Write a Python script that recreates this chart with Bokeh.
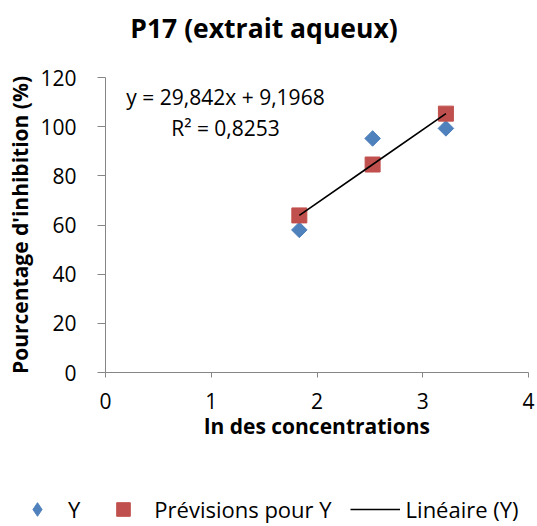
from bokeh.plotting import figure
from bokeh.models import Range1d, FixedTicker, Label, Legend, LegendItem
from bokeh.embed import file_html
from bokeh.resources import INLINE

# ---- data ----
title_text = "P17 (extrait aqueux)"
x_label = "ln des concentrations"
y_label = "Pourcentage d'inhibition (%)"
ln_conc = [1.833, 2.526, 3.219]
y_obs = [58.0, 95.2, 99.3]
y_pred = [63.9, 84.6, 105.3]
x_ticks = [0, 1, 2, 3, 4]
y_ticks = [0, 20, 40, 60, 80, 100, 120]
eq_text = "y = 29,842x + 9,1968"
r2_text = "R² = 0,8253"
series_names = ["Y", "Prévisions pour Y", "Linéaire (Y)"]

FONT = "Open Sans"
BLUE = "#4F81BD"
RED = "#C0504D"
AXIS = "#868686"


def strip(height):
    f = figure(width=537, height=height, output_backend="svg", toolbar_location=None,
               x_range=Range1d(0, 1), y_range=Range1d(0, 1),
               x_axis_location=None, y_axis_location=None,
               min_border=0, min_border_left=0, min_border_right=0,
               min_border_top=0, min_border_bottom=0)
    f.outline_line_color = None
    f.grid.visible = False
    f.border_fill_color = "white"
    f.background_fill_color = "white"
    return f


# ---- title strip ----
tt = strip(50)
tt.add_layout(Label(x=263.5, y=23, x_units="screen", y_units="screen",
                    text=title_text, text_align="center", text_baseline="middle",
                    text_font=FONT, text_font_style="bold", text_font_size="26.5px",
                    text_color="black"))

# ---- main chart ----
p = figure(width=537, height=440, output_backend="svg", toolbar_location=None,
           x_range=Range1d(0, 4), y_range=Range1d(0, 120),
           min_border_left=105, min_border_right=9, min_border_top=27,
           min_border_bottom=118)
p.outline_line_color = None
p.xgrid.visible = False
p.ygrid.visible = False
p.background_fill_color = "white"
p.border_fill_color = "white"

for ax in (p.xaxis[0], p.yaxis[0]):
    ax.axis_line_color = AXIS
    ax.axis_line_width = 1
    ax.major_tick_line_color = AXIS
    ax.minor_tick_line_color = None
    ax.major_tick_in = 0
    ax.major_label_text_font = FONT
    ax.major_label_text_font_size = "21px"
    ax.major_label_text_color = "black"
    ax.axis_label_text_font = FONT
    ax.axis_label_text_font_style = "bold"
    ax.axis_label_text_font_size = "21px"
    ax.axis_label_text_color = "black"

p.xaxis.ticker = FixedTicker(ticks=x_ticks)
p.yaxis.ticker = FixedTicker(ticks=y_ticks)
p.xaxis.axis_label = x_label
p.yaxis.axis_label = y_label
p.xaxis.major_tick_out = 5
p.yaxis.major_tick_out = 8
p.xaxis.major_label_standoff = 15
p.yaxis.major_label_standoff = 21
p.xaxis.axis_label_standoff = 0
p.yaxis.axis_label_standoff = 3

r_obs = p.scatter(ln_conc, y_obs, marker="square", size=11, angle=0.785398,
                  fill_color=BLUE, line_color=BLUE)
r_pred = p.scatter(ln_conc, y_pred, marker="square", size=15,
                   fill_color=RED, line_color=RED)
r_lin = p.line(ln_conc, y_pred, line_color="black", line_width=1.6)

p.add_layout(Label(x=120, y=276, x_units="screen", y_units="screen",
                   text=eq_text, text_align="center", text_baseline="middle",
                   text_font=FONT, text_font_size="21px", text_color="black"))
p.add_layout(Label(x=120, y=245, x_units="screen", y_units="screen",
                   text=r2_text, text_align="center", text_baseline="middle",
                   text_font=FONT, text_font_size="21px", text_color="black"))

# ---- legend strip ----
lg = strip(36)
# same series, outside this strip's ranges: only their legend glyphs show
lg_obs = lg.scatter(ln_conc, y_obs, marker="diamond", size=15,
                    fill_color=BLUE, line_color=BLUE)
lg_pred = lg.scatter(ln_conc, y_pred, marker="square", size=15,
                     fill_color=RED, line_color=RED)
lg_lin = lg.line(ln_conc, y_pred, line_color="black", line_width=1.6)

legend = Legend(items=[
    LegendItem(label=series_names[0], renderers=[lg_obs]),
    LegendItem(label=series_names[1], renderers=[lg_pred]),
    LegendItem(label=series_names[2], renderers=[lg_lin]),
], orientation="horizontal", location=(12, 0),
    glyph_width=50, glyph_height=34, label_standoff=6, spacing=18,
    label_width=0, label_height=0,
    padding=0, margin=0, border_line_color=None, background_fill_alpha=0,
    label_text_font=FONT, label_text_font_size="22px", label_text_color="black")
lg.add_layout(legend)

open("out.html", "w").write(file_html([tt, p, lg], INLINE))
